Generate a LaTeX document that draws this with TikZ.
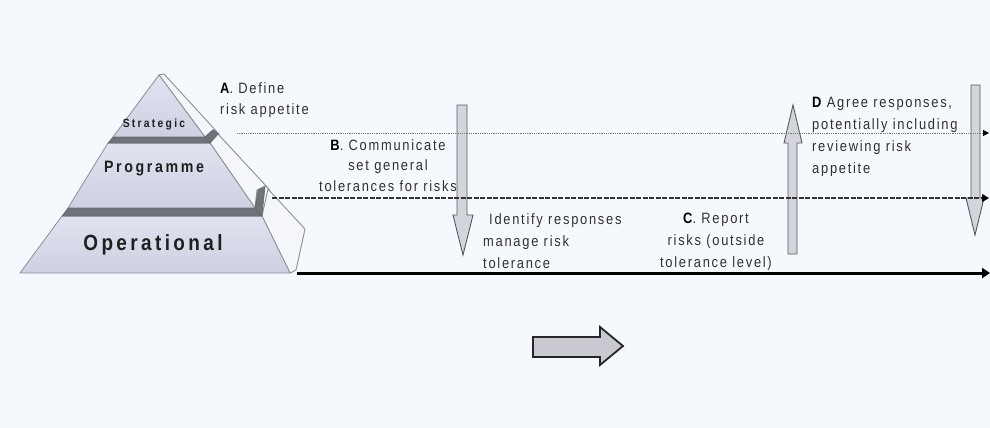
\documentclass[tikz,border=0pt]{standalone}
\usepackage{fontspec}
\setmainfont{Liberation Sans}
\newfontfamily\labfont[FakeStretch=0.86,LetterSpace=11.5]{Liberation Sans}
\newfontfamily\tierS[FakeStretch=0.86,LetterSpace=19]{Liberation Sans}
\newfontfamily\tierP[FakeStretch=0.86,LetterSpace=16]{Liberation Sans}
\newfontfamily\tierO[FakeStretch=0.86,LetterSpace=15.5]{Liberation Sans}
\usetikzlibrary{arrows.meta}

\definecolor{bgblue}{RGB}{245,249,253}
\definecolor{facefill}{RGB}{206,208,226}
\definecolor{facetop}{RGB}{226,227,240}
\definecolor{sidefill}{RGB}{245,246,250}
\definecolor{edgegray}{RGB}{140,142,152}
\definecolor{bandgray}{RGB}{112,114,122}
\definecolor{labgray}{RGB}{48,48,52}
\definecolor{arrowfill}{RGB}{212,212,220}
\definecolor{arrowedge}{RGB}{88,88,94}
\definecolor{dotgray}{RGB}{118,118,122}

\begin{document}
\begin{tikzpicture}[x=1pt,y=-1pt,
  front/.style={draw=edgegray,line width=0.8pt,top color=facetop,bottom color=facefill},
  side/.style={draw=edgegray,line width=0.9pt,fill=sidefill},
  band/.style={draw=bandgray!85!black,line width=0.5pt,fill=bandgray},
  lab/.style={font=\labfont\fontsize{15}{21}\selectfont,text=labgray,inner sep=0pt},
  tier/.style={inner sep=0pt,text=black!88,anchor=base},
  blockarrow/.style={draw=arrowedge,line width=0.9pt,fill=arrowfill,line join=miter},
  bigarrow/.style={draw=black!85,line width=1.8pt,fill=arrowfill!95!black,line join=miter},
  levelA/.style={draw=dotgray,line width=1pt,dash pattern=on 1pt off 0.8pt,
    -{Triangle[length=6pt,width=6pt,color=black]}},
  levelB/.style={draw=black!80,line width=1.3pt,dash pattern=on 5pt off 1.5pt,
    -{Triangle[length=7pt,width=8pt,color=black]}},
  levelC/.style={draw=black,line width=3pt,-{Triangle[length=8pt,width=10pt]}}
]
% page and background
\path[use as bounding box,fill=bgblue] (0,0) rectangle (990,428);

% ---------- pyramid: side faces ----------
\path[side] (159,75) -- (164,74) -- (218,133) -- (213,130) -- (205,137) -- cycle;
\path[side] (210,143) -- (218,134) -- (268,188) -- (265,186) -- (257,190) -- (255,208) -- cycle;
\path[side] (262,216) -- (268,189) -- (305,229) -- (296,270) -- (290,273) -- cycle;

% ---------- pyramid: front faces ----------
\path[front] (159,75) -- (205,137) -- (113,137) -- cycle;
\path[front] (108,143) -- (210,143) -- (255,208) -- (68,208) -- cycle;
\path[front] (62,216) -- (262,216) -- (290,273) -- (20,273) -- cycle;

% ---------- pyramid: dark separating bands ----------
\path[band] (113,137) -- (205,137) -- (210,143) -- (108,143) -- cycle;
\path[band] (205,137) -- (213,130) -- (218,134) -- (210,143) -- cycle;
\path[band] (68,208) -- (255,208) -- (262,216) -- (62,216) -- cycle;
\path[band] (255,208) -- (258,190) -- (265,187) -- (262,216) -- cycle;

% ---------- tier names ----------
\node[tier,font=\tierS\bfseries\fontsize{12}{12}\selectfont] (strategic) at (154,127) {Strategic};
\node[tier,font=\tierP\bfseries\fontsize{16.5}{16.5}\selectfont] (programme) at (154,172) {Programme};
\node[tier,font=\tierO\bfseries\fontsize{22}{22}\selectfont] (operational) at (153,250) {Operational};

% ---------- level lines ----------
\coordinate (la0) at (237,133);
\coordinate (la1) at (989,133);
\coordinate (lb0) at (272,198);
\coordinate (lb1) at (989,198);
\coordinate (lc0) at (297,273);
\coordinate (lc1) at (990,273);

% ---------- vertical block arrows ----------
\path[blockarrow] (457,105) -- (467,105) -- (467,215) -- (473,215) -- (463,255)
  -- (453,215) -- (457,215) -- cycle;
\path[blockarrow] (788,254) -- (797,254) -- (797,143) -- (802,143) -- (793,105)
  -- (784,143) -- (788,143) -- cycle;
\path[blockarrow] (971,85) -- (980,85) -- (980,198) -- (984,198) -- (975,235)
  -- (966,198) -- (971,198) -- cycle;

\draw[levelA] (la0) -- (la1);
\draw[levelB] (lb0) -- (lb1);
\draw[levelC] (lc0) -- (lc1);

% ---------- horizontal block arrow ----------
\path[bigarrow] (533,337) -- (600,337) -- (600,327) -- (623,346) -- (600,365)
  -- (600,357) -- (533,357) -- cycle;

% ---------- step labels ----------
\node[lab,anchor=north west,align=left] (stepA) at (220,82)
  {\textcolor{black}{\bfseries A}. Define\\risk appetite};
\node[lab,anchor=north,align=center,font=\labfont\fontsize{15}{20.5}\selectfont] (stepB) at (388,139)
  {\textcolor{black}{\bfseries B}. Communicate\\set general\\tolerances for risks};
\node[lab,anchor=north west,align=left,font=\labfont\fontsize{15}{22}\selectfont] (respond) at (483,213)
  {\hspace*{6pt}Identify responses\\manage risk\\tolerance};
\node[lab,anchor=north,align=center,font=\labfont\fontsize{15}{22}\selectfont] (stepC) at (716,213)
  {\textcolor{black}{\bfseries C}. Report\\risks (outside\\tolerance level)};
\node[lab,anchor=north west,align=left,font=\labfont\fontsize{15}{22}\selectfont] (stepD) at (812,97)
  {\textcolor{black}{\bfseries D} Agree responses,\\potentially including\\reviewing risk\\appetite};
\end{tikzpicture}
\end{document}
